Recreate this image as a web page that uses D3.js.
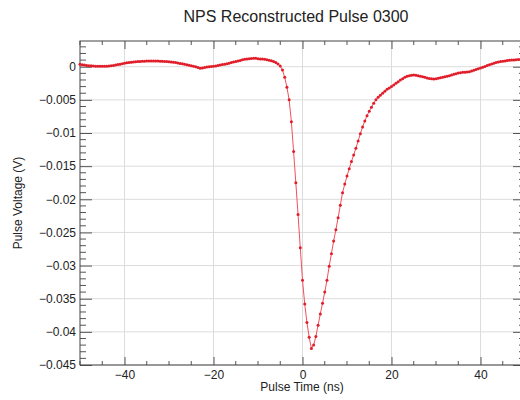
<!DOCTYPE html>
<html>
<head>
<meta charset="utf-8">
<script src="https://cdn.jsdelivr.net/npm/d3@7"></script>
<style>
  body { margin: 0; background: #fff; }
  svg { display: block; font-family: "Liberation Sans", Arial, sans-serif; }
</style>
</head>
<body>
<div id="chart"></div>
<script>
// pulse samples, 0.5 ns apart, starting at -50 ns (values in mV)
const tStart = -50
const tStep = 0.5
const pulseMilliVolts = [
  0.36, 0.30, 0.25, 0.20, 0.16, 0.13, 0.10, 0.08, 0.07, 0.06, 0.06, 0.07, 0.08, 0.10, 0.13, 0.18, 0.25, 0.32, 0.38, 0.45,
  0.52, 0.58, 0.63, 0.68, 0.72, 0.75, 0.78, 0.80, 0.82, 0.84, 0.85, 0.86, 0.86, 0.86, 0.86, 0.85, 0.84, 0.82, 0.80, 0.78,
  0.75, 0.72, 0.68, 0.63, 0.57, 0.50, 0.43, 0.36, 0.29, 0.22, 0.15, 0.07, -0.02, -0.12, -0.24, -0.20, -0.12, -0.06, -0.01, 0.03,
  0.07, 0.12, 0.18, 0.25, 0.32, 0.38, 0.45, 0.53, 0.62, 0.70, 0.78, 0.86, 0.95, 1.05, 1.12, 1.17, 1.20, 1.23, 1.27, 1.26,
  1.22, 1.18, 1.15, 1.12, 1.05, 0.98, 0.90, 0.80, 0.62, 0.40, 0.10, -0.50, -1.6, -3.1, -5.0, -8.3, -12.8, -17.5, -22.3, -27.3,
  -32.2, -35.8, -38.6, -40.8, -42.5, -42.0, -40.7, -39.0, -37.3, -35.7, -34.0, -32.2, -30.1, -28.2, -26.3, -24.6, -22.8, -20.9, -19.0, -17.7,
  -16.5, -15.4, -14.3, -13.3, -12.3, -11.2, -10.1, -9.1, -8.2, -7.4, -6.7, -6.1, -5.5, -5.0, -4.6, -4.3, -4.0, -3.7, -3.4, -3.2,
  -3.0, -2.75, -2.5, -2.25, -2.0, -1.8, -1.6, -1.45, -1.35, -1.28, -1.25, -1.28, -1.35, -1.42, -1.5, -1.6, -1.7, -1.78, -1.83, -1.85,
  -1.82, -1.75, -1.68, -1.6, -1.52, -1.45, -1.35, -1.25, -1.15, -1.05, -0.95, -0.9, -0.85, -0.82, -0.78, -0.75, -0.65, -0.55, -0.42, -0.3,
  -0.2, -0.08, 0.05, 0.18, 0.3, 0.42, 0.52, 0.62, 0.7, 0.78, 0.83, 0.88, 0.92, 0.96, 1.0, 1.03, 1.06, 1.08, 1.1, 1.1,
  1.1
]

const xTicks = [-40, -20, 0, 20, 40]
const yTicks = [0, -0.005, -0.01, -0.015, -0.02, -0.025, -0.03, -0.035, -0.04, -0.045]

const title = "NPS Reconstructed Pulse 0300"
const xLabel = "Pulse Time (ns)"
const yLabel = "Pulse Voltage (V)"

const width = 520
const height = 400
const margin = { top: 41, right: -5, bottom: 35, left: 80 }  // right edge of frame falls just outside the picture

const points = pulseMilliVolts.map((mv, i) => ({ t: tStart + i * tStep, v: mv / 1000 }))

const x = d3.scaleLinear().domain([-50, 50]).range([margin.left, width - margin.right])
const y = d3.scaleLinear().domain([-0.045, 0.00388]).range([height - margin.bottom, margin.top])

const svg = d3.select("#chart").append("svg")
  .attr("width", width)
  .attr("height", height)

svg.append("rect").attr("width", width).attr("height", height).attr("fill", "#fff")

// title
svg.append("text")
  .attr("x", 296)
  .attr("y", 22)
  .attr("text-anchor", "middle")
  .style("font-size", "16px")
  .attr("fill", "#222")
  .text(title)

const plotW = x.range()[1] - x.range()[0]
const plotH = y.range()[0] - y.range()[1]

// grid
svg.append("g")
  .selectAll("line")
  .data(xTicks)
  .join("line")
  .attr("x1", d => x(d)).attr("x2", d => x(d))
  .attr("y1", y.range()[1]).attr("y2", y.range()[0])
  .attr("stroke", "#dcdcdc")

svg.append("g")
  .selectAll("line")
  .data(yTicks)
  .join("line")
  .attr("x1", x.range()[0]).attr("x2", x.range()[1])
  .attr("y1", d => y(d)).attr("y2", d => y(d))
  .attr("stroke", "#dcdcdc")

const xMinor = d3.range(-50, 51, 5).filter(d => !xTicks.includes(d))
const yMinor = d3.range(-45, 4, 1).map(d => d / 1000).filter(d => !yTicks.some(t => Math.abs(t - d) < 1e-9))

const fmtY = d3.format(".3~f")

// axes: ticks pointing into the frame
const minorStroke = "#555"

const axisB = svg.append("g").attr("transform", `translate(0,${y.range()[0]})`)
axisB.call(d3.axisBottom(x).tickValues(xTicks).tickSize(-8).tickPadding(5).tickFormat(d3.format("d")))
axisB.append("g").selectAll("line").data(xMinor).join("line")
  .attr("x1", d => x(d)).attr("x2", d => x(d)).attr("y1", 0).attr("y2", -4).attr("stroke", minorStroke)

const axisT = svg.append("g").attr("transform", `translate(0,${y.range()[1]})`)
axisT.call(d3.axisTop(x).tickValues(xTicks).tickSize(-8).tickFormat(""))
axisT.append("g").selectAll("line").data(xMinor).join("line")
  .attr("x1", d => x(d)).attr("x2", d => x(d)).attr("y1", 0).attr("y2", 4).attr("stroke", minorStroke)

const axisL = svg.append("g").attr("transform", `translate(${x.range()[0]},0)`)
axisL.call(d3.axisLeft(y).tickValues(yTicks).tickSize(-12).tickPadding(4).tickFormat(d => d === 0 ? "0" : fmtY(d)))
axisL.append("g").selectAll("line").data(yMinor).join("line")
  .attr("y1", d => y(d)).attr("y2", d => y(d)).attr("x1", 0).attr("x2", 6).attr("stroke", minorStroke)

const axisR = svg.append("g").attr("transform", `translate(${x.range()[1]},0)`)
axisR.call(d3.axisRight(y).tickValues(yTicks).tickSize(-12).tickFormat(""))
axisR.append("g").selectAll("line").data(yMinor).join("line")
  .attr("y1", d => y(d)).attr("y2", d => y(d)).attr("x1", 0).attr("x2", -6).attr("stroke", minorStroke)

svg.selectAll(".domain").remove()
svg.selectAll(".tick line").attr("stroke", "#555")
svg.selectAll(".tick text").attr("fill", "#222").style("font-size", "12px")

// frame
svg.append("rect")
  .attr("x", x.range()[0]).attr("y", y.range()[1])
  .attr("width", plotW).attr("height", plotH)
  .attr("fill", "none")
  .attr("stroke", "#444")

// pulse line + sample markers
const line = d3.line().x(d => x(d.t)).y(d => y(d.v))

svg.append("path")
  .datum(points)
  .attr("d", line)
  .attr("fill", "none")
  .attr("stroke", "#f2505e")
  .attr("stroke-width", 1)

svg.append("g")
  .selectAll("circle")
  .data(points)
  .join("circle")
  .attr("cx", d => x(d.t))
  .attr("cy", d => y(d.v))
  .attr("r", 1.5)
  .attr("fill", "#e01e2a")

// axis titles
svg.append("text")
  .attr("x", 302)
  .attr("y", 391)
  .attr("text-anchor", "middle")
  .style("font-size", "12px")
  .attr("fill", "#222")
  .text(xLabel)

svg.append("text")
  .attr("transform", `translate(22,${(y.range()[0] + y.range()[1]) / 2}) rotate(-90)`)
  .attr("text-anchor", "middle")
  .style("font-size", "12px")
  .attr("fill", "#222")
  .text(yLabel)
</script>
</body>
</html>
